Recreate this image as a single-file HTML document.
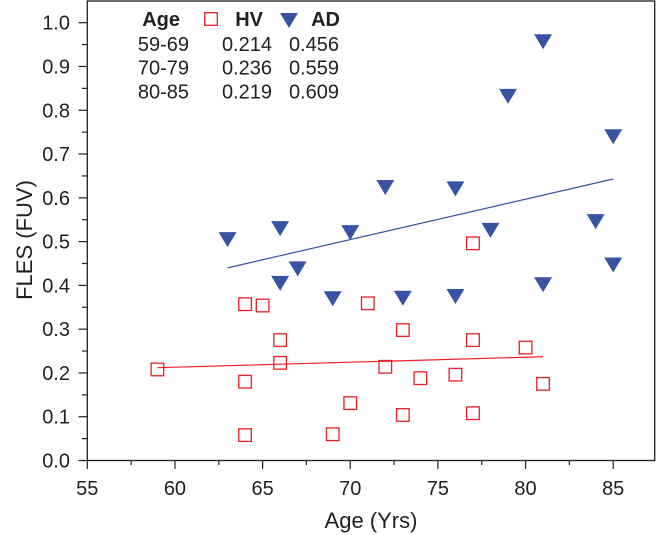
<!DOCTYPE html>
<html><head><meta charset="utf-8"><style>
html,body{margin:0;padding:0;background:#fff;}
svg{display:block;font-family:"Liberation Sans",Arial,sans-serif;}
</style></head><body>
<svg id="chart" width="658" height="535" viewBox="0 0 658 535" xmlns="http://www.w3.org/2000/svg">
<g id="axes"></g>
<g id="marks"></g>
<g id="legend"></g>
<text x="371" y="528" font-size="22" text-anchor="middle" fill="#231f20">Age (Yrs)</text>
<text x="0" y="0" font-size="22" text-anchor="middle" fill="#231f20" transform="translate(32,240) rotate(-90)">FLES (FUV)</text>
</svg>
<script>
const xTicks=[55,60,65,70,75,80,85];
const yTicks=[0.0,0.1,0.2,0.3,0.4,0.5,0.6,0.7,0.8,0.9,1.0];
const hvAge=[59,64,65,66,66,64,64,71,70,69,72,77,73,77,80,74,76,81,73,77];
const hvFles=[0.208,0.357,0.354,0.275,0.223,0.180,0.058,0.359,0.131,0.060,0.214,0.496,0.298,0.275,0.258,0.188,0.196,0.175,0.104,0.108];
const adAge=[67,66,69,73,76,81,85,63,66,70,72,76,78,79,81,84,85];
const adFles=[0.441,0.408,0.373,0.374,0.378,0.405,0.450,0.508,0.533,0.524,0.627,0.624,0.529,0.835,0.960,0.549,0.743];
const hvFitAge=[59,81];
const hvFitFles=[0.212,0.237];
const adFitAge=[63,85];
const adFitFles=[0.440,0.643];
const legendRows=[["59-69","0.214","0.456"],["70-79","0.236","0.559"],["80-85","0.219","0.609"]];

const NS="http://www.w3.org/2000/svg";
const X=v=>87.3+(v-55)*17.53;
const Y=v=>460.5-v*437.8;
function mk(tag,attrs,parent){const e=document.createElementNS(NS,tag);for(const k in attrs)e.setAttribute(k,attrs[k]);parent.appendChild(e);return e;}
const axes=document.getElementById('axes'),marks=document.getElementById('marks'),legend=document.getElementById('legend');
const ax='#231f20';
let f=mk('rect',{x:87.3,y:1,width:567.4,height:459.5,fill:'none',stroke:ax,'stroke-width':1.3},axes);


xTicks.forEach((t,i)=>{
  let l=mk('line',{x1:X(t),x2:X(t),y1:460.5,y2:469,stroke:ax,'stroke-width':1.2},axes);
  
  
  if(i<xTicks.length-1){let m=mk('line',{x1:X(t+2.5),x2:X(t+2.5),y1:460.5,y2:465,stroke:ax,'stroke-width':1.2},axes);
  
  }
  let tx=mk('text',{x:X(t),y:495,'font-size':20,'text-anchor':'middle',fill:ax},axes);
  
  
  tx.textContent=t;
});
yTicks.forEach((t,i)=>{
  let l=mk('line',{x1:78.5,x2:87.3,y1:Y(t),y2:Y(t),stroke:ax,'stroke-width':1.2},axes);
  
  
  if(i<yTicks.length-1){let m=mk('line',{x1:82,x2:87.3,y1:Y(t+0.05),y2:Y(t+0.05),stroke:ax,'stroke-width':1.2},axes);
  
  }
  let tx=mk('text',{x:70,y:Y(t)+7,'font-size':20,'text-anchor':'end',fill:ax},axes);
  
  
  tx.textContent=t.toFixed(1);
});
let hl=mk('line',{x1:X(hvFitAge[0]),y1:Y(hvFitFles[0]),x2:X(hvFitAge[1]),y2:Y(hvFitFles[1]),stroke:'#ec1c24','stroke-width':1.2},marks);


let al=mk('line',{x1:X(adFitAge[0]),y1:Y(adFitFles[0]),x2:X(adFitAge[1]),y2:Y(adFitFles[1]),stroke:'#3953a4','stroke-width':1.2},marks);


function sq(cx,cy,p){return mk('rect',{x:cx-6.3,y:cy-6.3,width:12.6,height:12.6,fill:'none',stroke:'#ec1c24','stroke-width':1.3},p);}
function tri(cx,cy,p){return mk('polygon',{points:`${cx-9},${cy-6} ${cx+9},${cy-6} ${cx},${cy+9}`,fill:'#3953a4'},p);}
hvAge.forEach((a,i)=>{let s=sq(X(a),Y(hvFles[i]),marks);
  
  });
adAge.forEach((a,i)=>{let s=tri(X(a),Y(adFles[i]),marks);
  
  });
function txt(x,y,s,w,name){let t=mk('text',{x:x,y:y,'font-size':20,'text-anchor':'end',fill:ax,'font-weight':w},legend);
  
  
  t.textContent=s;}
txt(180,26,'Age','bold','legend-age-header');
let ls=sq(211,19,legend);


txt(263,26,'HV','bold','legend-hv-header');
let lt=tri(289,19,legend);


txt(340,26,'AD','bold','legend-ad-header');
legendRows.forEach((r,i)=>{const y=51+i*23.7;
  txt(189,y,r[0],'normal','legend-age-range');
  txt(272,y,r[1],'normal','legend-hv-value');
  txt(339,y,r[2],'normal','legend-ad-value');});
</script>
</body></html>
